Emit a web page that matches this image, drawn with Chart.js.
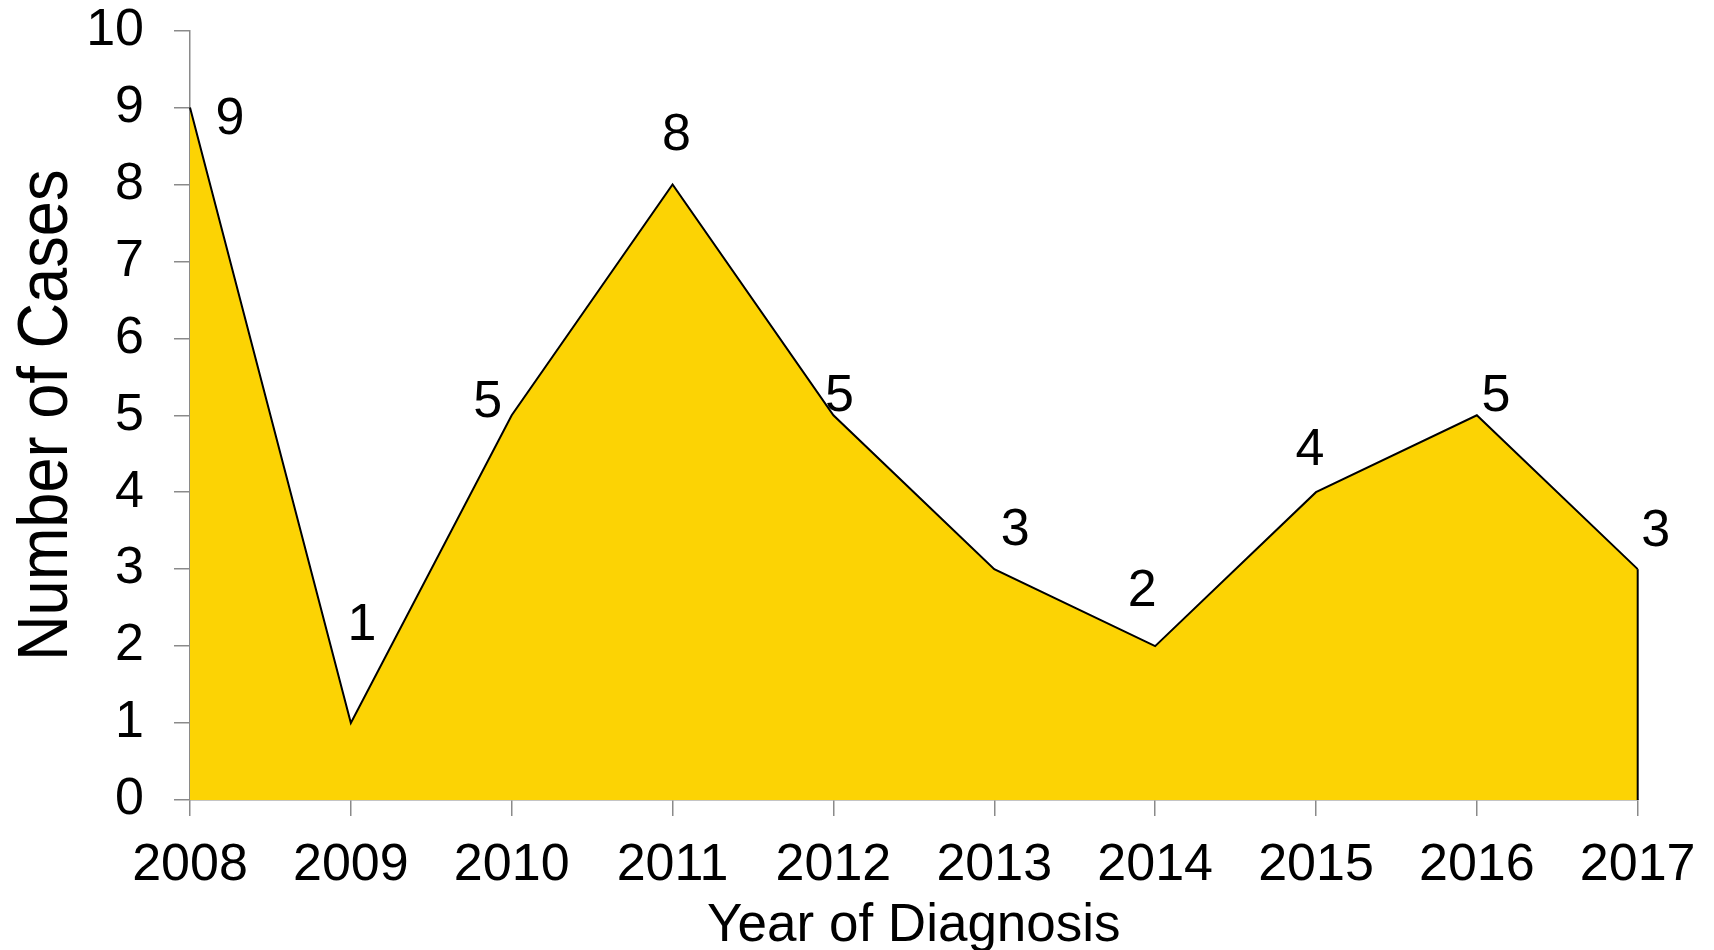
<!DOCTYPE html>
<html>
<head>
<meta charset="utf-8">
<style>
html,body{margin:0;padding:0;background:#fff;overflow:hidden}
#wrap{width:1714px;height:950px;position:relative}
</style>
<script src="https://cdn.jsdelivr.net/npm/chart.js@4.4.1/dist/chart.umd.min.js"></script>
</head>
<body>
<div id="wrap"><canvas id="c"></canvas></div>
<script>
// ---- data ----
const years = ['2008','2009','2010','2011','2012','2013','2014','2015','2016','2017'];
const cases = [9, 1, 5, 8, 5, 3, 2, 4, 5, 3];
const yMin = 0, yMax = 10, yStep = 1;
const xTitleText = 'Year of Diagnosis';
const yTitleText = 'Number of Cases';
// label placement (pixel offsets of each value label from its point) - style only
const labelOffsets = [[40,8],[11,-102],[-24,-17],[4,-53],[6,-23],[21,-43],[-13,-59],[-6,-46],[19,-23],[18,-42]];

const FONT = "'Liberation Sans', Arial, sans-serif";
const AXIS_COLOR = '#8a8a8a';
const FILL = 'rgb(252,211,4)';

const valueLabels = {
  id: 'valueLabels',
  afterDatasetsDraw(chart) {
    const ctx = chart.ctx;
    const meta = chart.getDatasetMeta(0);
    const yScale = chart.scales.y;
    // closing right edge of the area outline
    const last = meta.data[meta.data.length - 1];
    ctx.save();
    ctx.strokeStyle = '#000';
    ctx.lineWidth = 2;
    ctx.beginPath();
    ctx.moveTo(last.x, last.y);
    ctx.lineTo(last.x, yScale.getPixelForValue(0));
    ctx.stroke();
    // value labels
    const size = 52;
    ctx.font = size + 'px ' + FONT;
    ctx.fillStyle = '#000';
    ctx.textAlign = 'center';
    ctx.textBaseline = 'alphabetic';
    meta.data.forEach((pt, i) => {
      const o = labelOffsets[i] || [0, -30];
      ctx.fillText(String(chart.data.datasets[0].data[i]), pt.x + o[0], pt.y + o[1] + 0.358 * size);
    });
    ctx.restore();
  }
};

const yTitlePlugin = {
  id: 'yTitlePlugin',
  afterDraw(chart) {
    const ctx = chart.ctx;
    const a = chart.chartArea;
    const size = 71;
    ctx.save();
    ctx.translate(41.5 + 0.365 * size, (a.top + a.bottom) / 2);
    ctx.rotate(-Math.PI / 2);
    ctx.scale(0.89, 1);
    ctx.font = size + 'px ' + FONT;
    ctx.fillStyle = '#000';
    ctx.textAlign = 'center';
    ctx.textBaseline = 'alphabetic';
    ctx.fillText(yTitleText, 0, 0);
    ctx.restore();
  }
};

new Chart(document.getElementById('c'), {
  type: 'line',
  data: {
    labels: years,
    datasets: [{
      data: cases,
      borderColor: '#000',
      borderWidth: 2,
      backgroundColor: FILL,
      fill: 'origin',
      pointRadius: 0,
      tension: 0
    }]
  },
  options: {
    responsive: true,
    maintainAspectRatio: false,
    animation: false,
    devicePixelRatio: 1,
    layout: { padding: { left: 0, right: 76.3, top: 30.5, bottom: 0 } },
    plugins: { legend: { display: false }, tooltip: { enabled: false } },
    scales: {
      x: {
        type: 'category',
        offset: false,
        z: 1,
        grid: { display: true, drawOnChartArea: false, drawTicks: true, tickLength: 16, color: AXIS_COLOR, lineWidth: 1.5 },
        border: { display: true, color: AXIS_COLOR, width: 1.5 },
        ticks: { color: '#000', font: { family: FONT, size: 52, lineHeight: 1.2 }, padding: 18, maxRotation: 0, autoSkip: false },
        title: { display: true, text: xTitleText, color: '#000', font: { family: FONT, size: 53, lineHeight: 0.9 }, padding: { top: 0, bottom: 0 } },
        afterFit(s) { s.height = 150; s.paddingLeft = 0; s.paddingRight = 0; }
      },
      y: {
        min: yMin, max: yMax,
        z: 1,
        grid: { display: true, drawOnChartArea: false, drawTicks: true, tickLength: 16, color: AXIS_COLOR, lineWidth: 1.5 },
        border: { display: true, color: AXIS_COLOR, width: 1.5 },
        ticks: { stepSize: yStep, color: '#000', font: { family: FONT, size: 52, lineHeight: 1.1 }, padding: 30 },
        title: { display: false },
        afterFit(s) { s.width = 190; s.paddingTop = 0; s.paddingBottom = 0; }
      }
    }
  },
  plugins: [valueLabels, yTitlePlugin]
});
</script>
</body>
</html>
